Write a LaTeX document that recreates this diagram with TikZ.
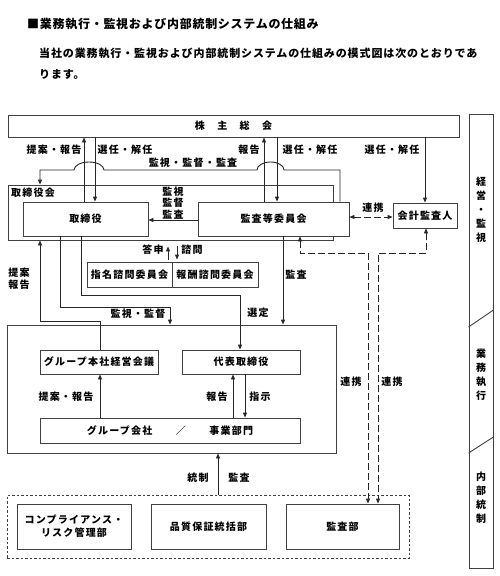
\documentclass[tikz,border=0pt]{standalone}
\usepackage{fontspec}
\setmainfont{Noto Sans CJK JP}[LetterSpace=12]
\newfontfamily\titlefont{Noto Sans CJK JP}[LetterSpace=6]
\newfontfamily\parafont{Noto Sans CJK JP}[LetterSpace=8]
\usetikzlibrary{arrows.meta}
\tikzset{
  ln/.style={line width=0.9pt, draw=black!85},
  arr/.style={ln, -{Triangle[length=5pt,width=4pt]}},
  darr/.style={ln, dash pattern=on 6.5pt off 3.5pt, {Triangle[length=5pt,width=4pt]}-{Triangle[length=5pt,width=4pt]}},
  box/.style={draw=black!75, line width=0.9pt, rectangle, inner sep=0pt, fill=white,
    font=\bfseries\fontsize{10}{13}\selectfont, align=center},
  frame/.style={draw=black!75, line width=0.9pt, rectangle, inner sep=0pt},
  lbl/.style={inner sep=0pt, font=\bfseries\fontsize{10}{12}\selectfont, align=center},
  vlbl/.style={inner sep=0pt, font=\bfseries\fontsize{10}{14}\selectfont, align=center},
}
\begin{document}
\begin{tikzpicture}[x=1pt,y=-1pt]
\useasboundingbox[fill=white] (0,0) rectangle (500,576);

% heading
\node[anchor=west, inner sep=0pt] (title) at (27,24)
  {\titlefont\bfseries\fontsize{12}{14}\selectfont ■業務執行・監視および内部統制システムの仕組み};
\node[anchor=west, inner sep=0pt] (para1) at (39,53)
  {\parafont\bfseries\fontsize{11}{13}\selectfont 当社の業務執行・監視および内部統制システムの仕組みの模式図は次のとおりであ};
\node[anchor=west, inner sep=0pt] (para2) at (39,74)
  {\parafont\bfseries\fontsize{11}{13}\selectfont ります。};

% side bar
\node[frame, minimum width=24pt, minimum height=454pt] (side) at (481,341) {};
\draw[ln, draw=black!75] (side.west |- 0,327) -- (side.east |- 0,310);
\draw[ln, draw=black!75] (side.west |- 0,453) -- (side.east |- 0,437);
\node[vlbl] (s1) at (481,210) {経\\営\\・\\監\\視};
\node[vlbl] (s2) at (481,375) {業\\務\\執\\行};
\node[vlbl] (s3) at (481,497.5) {内\\部\\統\\制};

% top level
\node[box, minimum width=451pt, minimum height=22pt] (soukai) at (233.5,126) {株　主　総　会};
\node[frame, minimum width=325pt, minimum height=55pt] (bod) at (170.5,212.5) {};
\node[lbl, anchor=west] (bodlabel) at (11,193) {取締役会};
\node[box, minimum width=125pt, minimum height=34pt] (tori) at (85.5,219) {取締役};
\node[box, minimum width=151pt, minimum height=34pt] (kansa) at (273.5,219) {監査等委員会};
\node[box, minimum width=64pt, minimum height=25pt] (kaikei) at (425,215.5) {会計監査人};
\node[box, minimum width=85pt, minimum height=25pt] (shimei) at (129.5,274.5) {指名諮問委員会};
\node[box, minimum width=86pt, minimum height=25pt] (houshu) at (215,274.5) {報酬諮問委員会};

% execution block
\node[frame, minimum width=329pt, minimum height=128pt] (exec) at (171.5,389) {};
\node[box, minimum width=118pt, minimum height=24pt] (hq) at (99,362) {グループ本社経営会議};
\node[box, minimum width=118pt, minimum height=24pt] (daihyo) at (241,362) {代表取締役};
\node[box, minimum width=260pt, minimum height=25pt] (group) at (170,430.5) {グループ会社　　／　　事業部門};

% internal control block
\node[frame, dash pattern=on 2.5pt off 2pt, minimum width=402pt, minimum height=63pt] (ctrl) at (208,526.5) {};
\node[box, minimum width=114pt, minimum height=45pt] (comp) at (74,526.5) {コンプライアンス・\\リスク管理部};
\node[box, minimum width=115pt, minimum height=45pt] (qa) at (208.5,526.5) {品質保証統括部};
\node[box, minimum width=113pt, minimum height=45pt] (kansabu) at (342.5,526.5) {監査部};

% connectors: shareholders
\draw[arr] (84,0 |- tori.north) -- (84,0 |- soukai.south);
\draw[arr] (95,0 |- soukai.south) -- (95,0 |- tori.north);
\draw[arr] (264,0 |- kansa.north) -- (264,0 |- soukai.south);
\draw[arr] (277,0 |- soukai.south) -- (277,0 |- kansa.north);
\draw[arr] (425,0 |- soukai.south) -- (425,0 |- kaikei.north);
\draw[arr] (340,0 |- kansa.north) -- (340,170) -- (284,170)
  arc[start angle=0, end angle=180, x radius=13.5pt, y radius=8pt] -- (104,170)
  arc[start angle=0, end angle=180, x radius=15pt, y radius=8pt] -- (40,170) -- (40,0 |- bod.north);
\node[lbl] (l1) at (54,150) {提案・報告};
\node[lbl] (l2) at (125,150) {選任・解任};
\node[lbl] (l3) at (249,150) {報告};
\node[lbl] (l4) at (310,150) {選任・解任};
\node[lbl] (l5) at (392,150) {選任・解任};
\node[lbl] (l6) at (193,163) {監視・監督・監査};

% board internals
\draw[arr] (kansa.west |- 0,220) -- (tori.east |- 0,220);
\node[lbl, font=\bfseries\fontsize{10}{11.5}\selectfont] (l7) at (173,203) {監視\\監督\\監査};
\draw[darr] (kansa.east |- 0,217) -- (kaikei.west |- 0,217);
\node[lbl] (l8) at (373,208) {連携};

% committees
\draw[arr, shorten <=2pt, shorten >=6pt] (168,0 |- shimei.north) -- (168,0 |- bod.south);
\draw[arr, shorten <=6pt, shorten >=2pt] (177,0 |- bod.south) -- (177,0 |- shimei.north);
\node[lbl] (l9) at (153,250) {答申};
\node[lbl] (l10) at (192,250) {諮問};

% board to execution
\draw[arr] (100,0 |- hq.north) -- (100,321) -- (40,321) -- (40,0 |- bod.south);
\node[lbl, font=\bfseries\fontsize{10}{12}\selectfont] (l11) at (19,279) {提案\\報告};
\draw[arr] (60,0 |- tori.south) -- (60,307) -- (170,307) -- (170,0 |- exec.north);
\node[lbl] (l12) at (138,314) {監視・監督};
\draw[arr] (81,0 |- tori.south) -- (81,295) -- (240,295) -- (240,0 |- daihyo.north);
\node[lbl] (l13) at (258,313) {選定};
\draw[arr] (283,0 |- kansa.south) -- (283,0 |- exec.north);
\node[lbl] (l14) at (296,275) {監査};

% dashed liaison to audit department
\draw[darr] (300,0 |- kansa.south) -- (300,253) -- (368,253) -- (368,0 |- kansabu.north);
\draw[darr] (426,0 |- kaikei.south) -- (426,253) -- (378,253) -- (378,0 |- kansabu.north);
\node[lbl] (l15) at (351,382) {連携};
\node[lbl] (l16) at (392,382) {連携};

% execution internals
\draw[arr] (100,0 |- group.north) -- (100,0 |- hq.south);
\node[lbl] (l17) at (66,397) {提案・報告};
\draw[arr] (233,0 |- group.north) -- (233,0 |- daihyo.south);
\draw[arr] (245,0 |- daihyo.south) -- (245,0 |- group.north);
\node[lbl] (l18) at (217,397) {報告};
\node[lbl] (l19) at (260,397) {指示};

% control to execution
\draw[arr] (218,0 |- ctrl.north) -- (218,0 |- exec.south);
\node[lbl] (l20) at (198,478) {統制};
\node[lbl] (l21) at (239,478) {監査};
\end{tikzpicture}
\end{document}
